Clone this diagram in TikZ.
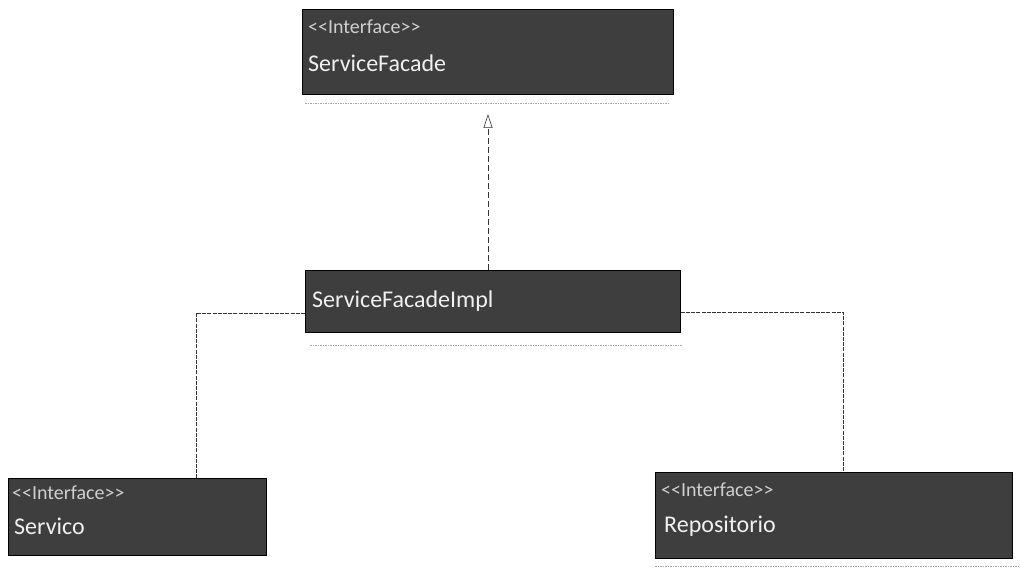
\documentclass[tikz,border=0pt]{standalone}
\usepackage{fontspec}
\setmainfont{Carlito}
\usetikzlibrary{arrows.meta}
\definecolor{boxfill}{HTML}{3E3E3E}
\definecolor{txtmain}{HTML}{F0F0F0}
\definecolor{txtster}{HTML}{CFCFCF}
\newcommand{\stereotxt}{<\kern0pt<Interface>\kern0pt>}
\begin{document}
\begin{tikzpicture}[x=1pt,y=-1pt,
  box/.style={draw=black, line width=0.8pt, fill=boxfill, anchor=north west, inner sep=0pt},
  stereo/.style={anchor=west, text=txtster, font=\fontsize{20}{24}\selectfont, inner sep=0pt},
  title/.style={anchor=west, text=txtmain, font=\fontsize{24}{28}\selectfont, inner sep=0pt},
  sep/.style={draw=gray!70, line width=0.5pt, dash pattern=on 1.5pt off 1pt},
  conn/.style={draw=black!80, line width=0.6pt, dash pattern=on 4pt off 1.2pt},
  real/.style={draw=black!80, line width=0.6pt, dash pattern=on 6pt off 3pt}
]
\useasboundingbox (0,0) rectangle (1020,569);
% boxes
\node[box, minimum width=371pt, minimum height=85pt] (sf) at (302,9) {};
\node[box, minimum width=375pt, minimum height=62pt] (sfi) at (305,270) {};
\node[box, minimum width=258pt, minimum height=77pt] (srv) at (8,478) {};
\node[box, minimum width=357pt, minimum height=86pt] (rep) at (655,472) {};
% texts
\node[stereo] (sfst) at (308,27) {\stereotxt};
\node[title] (sft) at (308,63) {ServiceFacade};
\node[title] (sfit) at (312,301) {ServiceFacadeImpl};
\node[stereo] (srvst) at (12,493) {\stereotxt};
\node[title] (srvt) at (14,526) {Servico};
\node[stereo] (repst) at (661,490) {\stereotxt};
\node[title] (rept) at (664,526) {Repositorio};
% separator lines under boxes
\coordinate (sfsepl) at (305,103);
\coordinate (sfsepr) at (670,103);
\draw[sep] (sfsepl) -- (sfsepr);
\coordinate (sfisepl) at (310,345);
\coordinate (sfisepr) at (682,345);
\draw[sep] (sfisepl) -- (sfisepr);
\coordinate (repsepl) at (655,566);
\coordinate (repsepr) at (1018,566);
\draw[sep] (repsepl) -- (repsepr);
% realization
\coordinate (tip) at (488,114);
\draw[real, -{Triangle[open, length=14pt, width=9pt]}] (sfi.north -| tip) -- (tip);
% associations
\coordinate (lc) at (196,313);
\draw[conn] (sfi.west |- lc) -- (lc) -- (srv.north -| lc);
\coordinate (rc) at (843,312);
\draw[conn] (sfi.east |- rc) -- (rc) -- (rep.north -| rc);
\end{tikzpicture}
\end{document}
